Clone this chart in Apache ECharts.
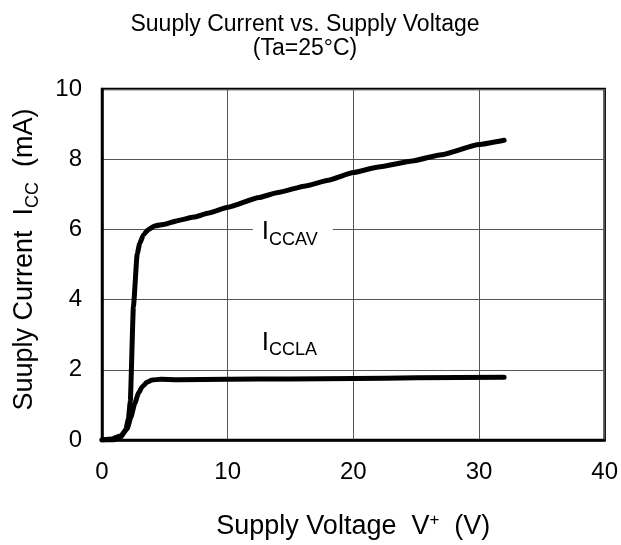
<!DOCTYPE html>
<html>
<head>
<meta charset="utf-8">
<script src="https://cdn.jsdelivr.net/npm/echarts@6/dist/echarts.min.js"></script>
<style>
html,body{margin:0;padding:0;background:#fff;}
#chart{width:621px;height:545px;}
</style>
</head>
<body>
<div id="chart"></div>
<script>
// ---- Data ----
const titleLines = ['Suuply Current vs. Supply Voltage', '(Ta=25°C)'];
const xTicks = [0, 10, 20, 30, 40];
const yTicks = [0, 2, 4, 6, 8, 10];

// I_CCAV curve
const voltsAV = [0, 0.9, 1.5, 1.9, 2.1, 2.25, 2.5, 2.8, 3.0, 3.3, 3.7, 4.2, 5, 6, 7.3, 8.5, 10, 12.5, 14, 16.2, 18, 20, 22, 24.7, 27, 30, 32];
const currAV = [0, 0, 0.08, 0.3, 0.6, 1.1, 3.8, 5.3, 5.6, 5.85, 6.0, 6.1, 6.15, 6.25, 6.35, 6.47, 6.63, 6.91, 7.05, 7.24, 7.4, 7.62, 7.78, 7.95, 8.13, 8.42, 8.54];

// I_CCLA curve
const voltsLA = [0, 0.8, 1.5, 2.0, 2.3, 2.6, 2.9, 3.2, 3.6, 4.0, 4.7, 6, 10, 15, 20, 25, 32];
const currLA = [0, 0.03, 0.12, 0.32, 0.65, 1.03, 1.33, 1.52, 1.65, 1.71, 1.73, 1.72, 1.73, 1.74, 1.75, 1.77, 1.79];

// Curve label annotations (data coordinates)
const labelAV = {sub: 'CCAV', at: [12.0, 5.92]};
const labelLA = {sub: 'CCLA', at: [12.0, 2.78]};

const FONT = 'Liberation Sans, Arial, sans-serif';

function pairs(xs, ys) { return xs.map((x, i) => [x, ys[i]]); }

function curveLabel(lbl, bg) {
  return {
    symbol: 'circle', symbolSize: 0,
    data: [{coord: lbl.at}],
    label: {
      show: true, position: 'right', distance: 0,
      formatter: '{a|I}{b|' + lbl.sub + '}',
      backgroundColor: bg ? '#fff' : 'transparent',
      padding: [2, 15, 2, 9],
      rich: {
        a: {fontSize: 26, fontFamily: FONT, color: '#000', lineHeight: 26, verticalAlign: 'bottom'},
        b: {fontSize: 18, fontFamily: FONT, color: '#000', lineHeight: 18, verticalAlign: 'bottom', padding: [0, 0, -4, 0]}
      }
    }
  };
}

const chart = echarts.init(document.getElementById('chart'), null, {renderer: 'canvas'});
chart.setOption({
  animation: false,
  backgroundColor: '#fff',
  title: {
    text: titleLines.join('\n'),
    left: 300, top: 8, textAlign: 'center',
    textStyle: {fontFamily: FONT, fontSize: 23, fontWeight: 'normal', color: '#000', lineHeight: 24}
  },
  grid: {
    left: 102, right: 15, top: 89, bottom: 102,
    show: true, borderColor: '#000', borderWidth: 2.5, backgroundColor: 'transparent'
  },
  xAxis: {
    type: 'value', min: xTicks[0], max: xTicks[xTicks.length - 1], interval: 10,
    name: '{t|Supply Voltage  V}{s|+}{t|  (V)}',
    nameLocation: 'middle', nameGap: 72,
    nameTextStyle: {
      rich: {
        t: {fontFamily: FONT, fontSize: 27, color: '#000', lineHeight: 28, verticalAlign: 'bottom'},
        s: {fontFamily: FONT, fontSize: 17, color: '#000', lineHeight: 14, verticalAlign: 'top'}
      }
    },
    axisLine: {show: true, lineStyle: {color: '#000', width: 2.5}},
    axisTick: {show: false},
    axisLabel: {fontFamily: FONT, fontSize: 24, color: '#000', margin: 20},
    splitLine: {show: true, lineStyle: {color: '#555', width: 1}}
  },
  yAxis: {
    type: 'value', min: yTicks[0], max: yTicks[yTicks.length - 1], interval: 2,
    name: '{t|Suuply Current  I}{s|CC}{t|  (mA)}',
    nameLocation: 'middle', nameRotate: 90, nameGap: 64,
    nameTextStyle: {
      padding: [0, 0, 0, 10],
      rich: {
        t: {fontFamily: FONT, fontSize: 27, color: '#000', lineHeight: 28, verticalAlign: 'bottom'},
        s: {fontFamily: FONT, fontSize: 18, color: '#000', lineHeight: 18, verticalAlign: 'bottom', padding: [0, 0, -4, 0]}
      }
    },
    axisLine: {show: true, lineStyle: {color: '#000', width: 2.5}},
    axisTick: {show: false},
    axisLabel: {fontFamily: FONT, fontSize: 24, color: '#000', margin: 20},
    splitLine: {show: true, lineStyle: {color: '#555', width: 1}}
  },
  series: [
    {
      name: 'ICCAV', type: 'line', data: pairs(voltsAV, currAV),
      showSymbol: false, smooth: 0.15, smoothMonotone: 'x',
      lineStyle: {color: '#000', width: 5, cap: 'round', join: 'round'},
      markPoint: curveLabel(labelAV, true), z: 3
    },
    {
      name: 'ICCLA', type: 'line', data: pairs(voltsLA, currLA),
      showSymbol: false, smooth: 0.15, smoothMonotone: 'x',
      lineStyle: {color: '#000', width: 5, cap: 'round', join: 'round'},
      markPoint: curveLabel(labelLA, false), z: 3
    }
  ]
});
</script>
</body>
</html>
